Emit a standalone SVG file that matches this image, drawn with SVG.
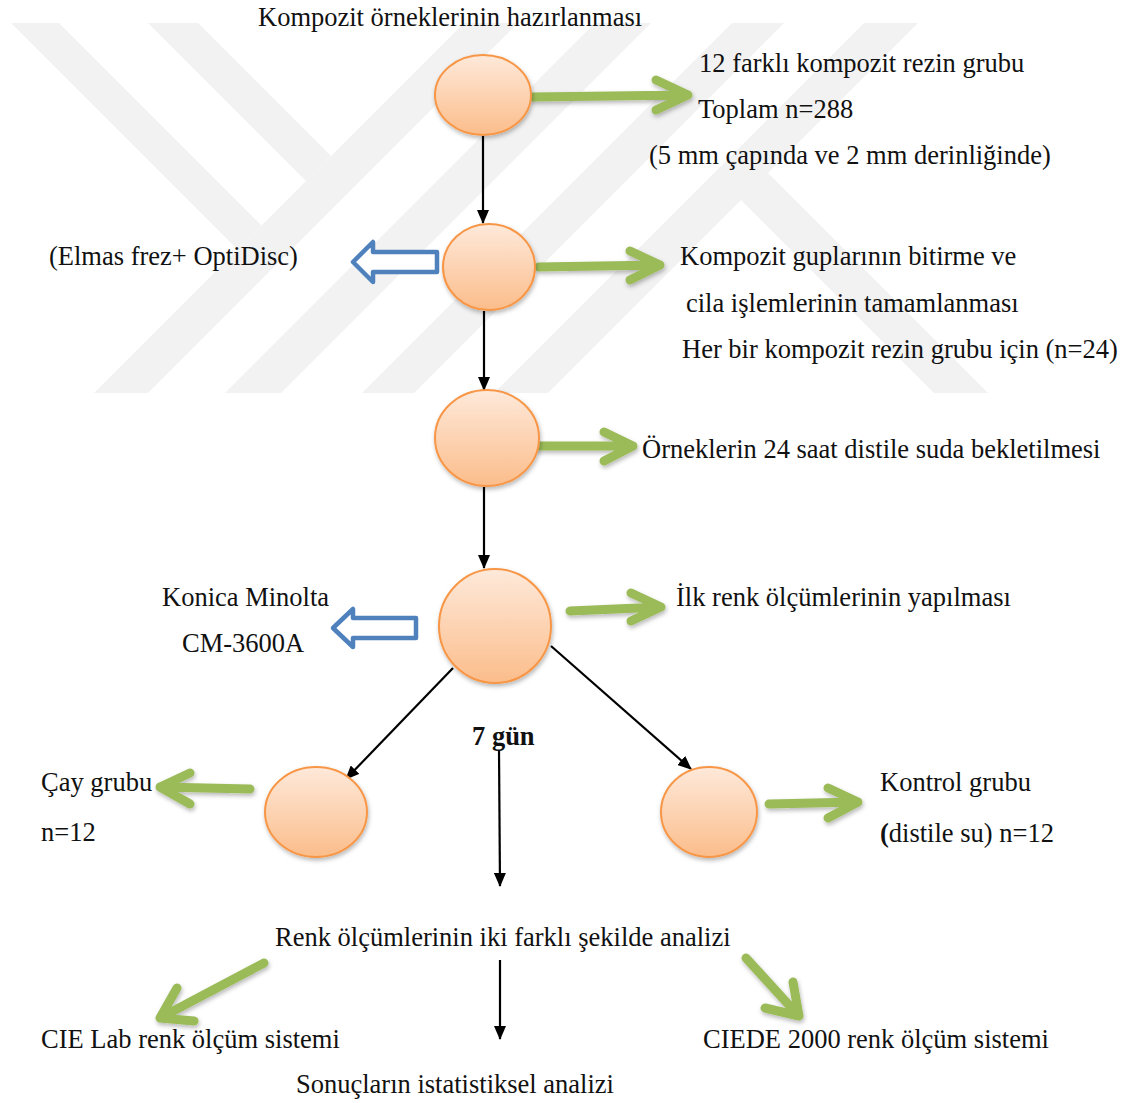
<svg xmlns="http://www.w3.org/2000/svg" width="1130" height="1103" viewBox="0 0 1130 1103">
<defs>
<linearGradient id="peach" x1="0" y1="0" x2="0" y2="1">
<stop offset="0" stop-color="#fee9da"/>
<stop offset="1" stop-color="#fbbd8b"/>
</linearGradient>
<filter id="sh" x="-20%" y="-20%" width="140%" height="150%">
<feDropShadow dx="1" dy="2.5" stdDeviation="2" flood-color="#000" flood-opacity="0.28"/>
</filter>
<marker id="ah" markerWidth="14" markerHeight="12" refX="13" refY="6" orient="auto" markerUnits="userSpaceOnUse">
<path d="M0,0 L14,6 L0,12 Z" fill="#000"/>
</marker>
</defs>
<style>
text{font-family:"Liberation Serif","Times New Roman",serif;font-size:26.5px;fill:#111}
.b{font-weight:bold}
.wm{fill:#f2f2f2}
.node ellipse{fill:url(#peach);stroke:#f79646;stroke-width:2}
.blk{stroke:#000;stroke-width:2.2;fill:none}
.grn{stroke:#9bbb59;stroke-width:9;fill:none;stroke-linecap:round;stroke-linejoin:round}
.blu{stroke:#4f81bd;stroke-width:4.5;fill:#fff;stroke-linejoin:round}
</style>
<rect width="1130" height="1103" fill="#fff"/>
<g id="watermark">
<polygon class="wm" points="464,23 518,23 148,393 94,393"/>
<polygon class="wm" points="595,23 651,23 281,393 225,393"/>
<polygon class="wm" points="732,23 784,23 414,393 362,393"/>
<polygon class="wm" points="864,23 918,23 548,393 494,393"/>
<polygon class="wm" points="11,23 59,23 261.5,225.5 237.5,249.5"/>
<polygon class="wm" points="148,23 198,23 331,156 306,181"/>
<polygon class="wm" points="741,200 768,173 988,393 934,393"/>
</g>
<g id="connectors">
<line class="blk" x1="483" y1="136" x2="483" y2="223" marker-end="url(#ah)"/>
<line class="blk" x1="484" y1="311" x2="484" y2="390" marker-end="url(#ah)"/>
<line class="blk" x1="484" y1="487" x2="484" y2="568" marker-end="url(#ah)"/>
<line class="blk" x1="453" y1="668" x2="346" y2="779" marker-end="url(#ah)"/>
<line class="blk" x1="551" y1="646" x2="691" y2="769" marker-end="url(#ah)"/>
<line class="blk" x1="499" y1="750" x2="500" y2="886" marker-end="url(#ah)"/>
<line class="blk" x1="500" y1="960" x2="500" y2="1039" marker-end="url(#ah)"/>
<g filter="url(#sh)">
<path class="grn" d="M533,97 L688,95 M656,80 L688,95 L656,110"/>
<path class="grn" d="M539,267 L660,265 M630,251 L660,265 L630,280"/>
<path class="grn" d="M524,446 L633,446 M604,432 L633,446 L604,461"/>
<path class="grn" d="M570,611 L661,607 M631,593 L661,607 L631,621"/>
<path class="grn" d="M250,789 L160,787 M190,773 L160,787 L190,804"/>
<path class="grn" d="M769,804 L858,802 M828,788 L858,802 L828,818"/>
<path class="grn" d="M264,963 L160,1018 M177,988 L160,1018 L194,1021"/>
<path class="grn" d="M746,958 L799,1016 M793,982 L799,1016 L765,1008"/>
</g>
<path class="blu" d="M353,262 L373,242 L373,252 L437,252 L437,272 L373,272 L373,282 Z"/>
<path class="blu" d="M333,628 L353,609 L353,618 L416,618 L416,638 L353,638 L353,647 Z"/>
</g>
<g id="n1" class="node"><ellipse cx="483" cy="95" rx="48" ry="40" filter="url(#sh)"/></g>
<g id="n2" class="node"><ellipse cx="489" cy="267" rx="46" ry="43" filter="url(#sh)"/></g>
<g id="n3" class="node"><ellipse cx="487" cy="438" rx="52" ry="48" filter="url(#sh)"/></g>
<g id="n4" class="node"><ellipse cx="495" cy="626" rx="56" ry="57" filter="url(#sh)"/></g>
<g id="n5" class="node"><ellipse cx="316" cy="812" rx="51" ry="45" filter="url(#sh)"/></g>
<g id="n6" class="node"><ellipse cx="709" cy="812" rx="48" ry="45" filter="url(#sh)"/></g>
<g id="labels">
<text x="258" y="26">Kompozit örneklerinin hazırlanması</text>
<text x="699" y="72">12 farklı kompozit rezin grubu</text>
<text x="698" y="118">Toplam n=288</text>
<text x="649" y="164">(5 mm çapında ve 2 mm derinliğinde)</text>
<text x="49" y="265">(Elmas frez+ OptiDisc)</text>
<text x="680" y="265">Kompozit guplarının bitirme ve</text>
<text x="686" y="312">cila işlemlerinin tamamlanması</text>
<text x="682" y="358">Her bir kompozit rezin grubu için (n=24)</text>
<text x="642" y="458">Örneklerin 24 saat distile suda bekletilmesi</text>
<text x="162" y="606">Konica Minolta</text>
<text x="182" y="652">CM-3600A</text>
<text x="676" y="606">İlk renk ölçümlerinin yapılması</text>
<text x="472" y="745" class="b">7 gün</text>
<text x="41" y="791">Çay grubu</text>
<text x="41" y="841">n=12</text>
<text x="880" y="791">Kontrol grubu</text>
<text x="880" y="842"><tspan class="b">(</tspan>distile su) n=12</text>
<text x="275" y="946">Renk ölçümlerinin iki farklı şekilde analizi</text>
<text x="41" y="1048">CIE Lab renk ölçüm sistemi</text>
<text x="703" y="1048">CIEDE 2000 renk ölçüm sistemi</text>
<text x="296" y="1093">Sonuçların istatistiksel analizi</text>
</g>
</svg>
